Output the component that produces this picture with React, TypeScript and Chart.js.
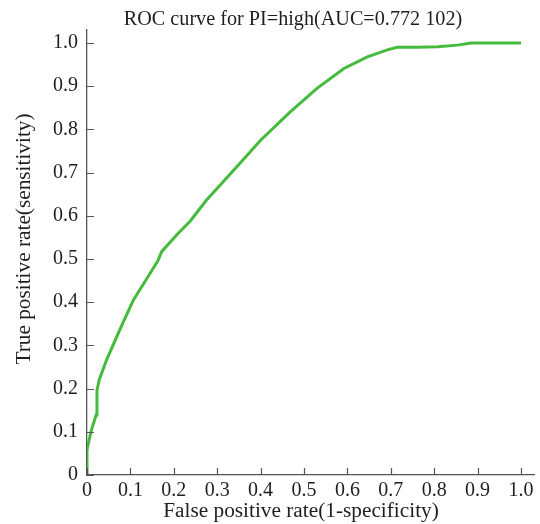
import React, { useEffect, useRef } from "react";
import { Chart, registerables } from "chart.js";

Chart.register(...registerables);

const chartTitle = "ROC curve for PI=high(AUC=0.772 102)";
const xTitle = "False positive rate(1-specificity)";
const yTitle = "True positive rate(sensitivity)";

const fpr = [0, 0, 0.009, 0.021, 0.023, 0.028, 0.045, 0.065, 0.084, 0.107, 0.138, 0.163, 0.172, 0.19, 0.207, 0.238, 0.276, 0.307, 0.353, 0.4, 0.469, 0.53, 0.592, 0.646, 0.692, 0.715, 0.761, 0.808, 0.854, 0.885, 0.904, 1.0];
const tpr = [0, 0.058, 0.1, 0.139, 0.196, 0.22, 0.266, 0.312, 0.355, 0.405, 0.455, 0.495, 0.517, 0.537, 0.556, 0.588, 0.637, 0.671, 0.722, 0.775, 0.841, 0.895, 0.941, 0.968, 0.984, 0.99, 0.99, 0.991, 0.995, 1.0, 1.0, 1.0];

const tickValues = [0, 0.1, 0.2, 0.3, 0.4, 0.5, 0.6, 0.7, 0.8, 0.9, 1.0];
const tickLabels = ["0", "0.1", "0.2", "0.3", "0.4", "0.5", "0.6", "0.7", "0.8", "0.9", "1.0"];

const FONT = "'Liberation Serif', 'DejaVu Serif', serif";
const TEXT = "#1e1e1e";
const AXIS = "#555555";

const decorPlugin = {
  id: "decor",
  afterDraw(chart: any) {
    const ctx = chart.ctx;
    const xs = chart.scales.x;
    const ys = chart.scales.y;
    ctx.save();
    // inward tick marks
    ctx.strokeStyle = AXIS;
    ctx.lineWidth = 1.2;
    ctx.beginPath();
    tickValues.forEach((v) => {
      const px = Math.round(xs.getPixelForValue(v)) + 0.5;
      ctx.moveTo(px, xs.top);
      ctx.lineTo(px, xs.top - 7);
      const py = Math.round(ys.getPixelForValue(v)) + 0.5;
      ctx.moveTo(ys.right, py);
      ctx.lineTo(ys.right + 7, py);
    });
    ctx.stroke();
    // titles
    ctx.fillStyle = TEXT;
    ctx.textAlign = "center";
    ctx.textBaseline = "middle";
    ctx.font = `20.2px ${FONT}`;
    ctx.fillText(chartTitle, 293, 20);
    ctx.font = `21.3px ${FONT}`;
    ctx.fillText(xTitle, 301, 511);
    ctx.translate(24, 239);
    ctx.rotate(-Math.PI / 2);
    ctx.fillText(yTitle, 0, 0);
    ctx.restore();
  },
};

export default function App() {
  const ref = useRef<HTMLCanvasElement | null>(null);
  useEffect(() => {
    if (!ref.current) return;
    const setTicks = (scale: any) => {
      scale.ticks = tickValues.map((v) => ({ value: v }));
    };
    const chart = new Chart(ref.current, {
      type: "scatter",
      data: {
        datasets: [
          {
            label: "ROC",
            data: fpr.map((x, i) => ({ x, y: tpr[i] })),
            showLine: true,
            borderColor: "#44bb3c",
            backgroundColor: "#44bb3c",
            borderWidth: 3,
            pointRadius: 0,
            tension: 0,
          },
        ],
      },
      options: {
        animation: false,
        responsive: false,
        layout: { padding: { top: 30, right: 6, left: 0, bottom: 0 } },
        plugins: {
          legend: { display: false },
          title: { display: false },
          tooltip: { enabled: false },
        },
        scales: {
          x: {
            type: "linear",
            min: 0,
            max: 1.03,
            afterBuildTicks: setTicks,
            afterFit: (s: any) => {
              s.height = 49;
            },
            grid: { display: true, drawOnChartArea: false, drawTicks: false },
            border: { display: true, color: AXIS, width: 1.3 },
            ticks: {
              padding: 4,
              color: TEXT,
              font: { family: FONT, size: 20 },
              maxRotation: 0,
              autoSkip: false,
              callback: (v: any) => {
                const i = tickValues.findIndex((t) => Math.abs(t - v) < 1e-9);
                return i >= 0 ? tickLabels[i] : "";
              },
            },
          },
          y: {
            type: "linear",
            min: 0,
            max: 1.03,
            afterBuildTicks: setTicks,
            afterFit: (s: any) => {
              s.width = 87;
            },
            grid: { display: true, drawOnChartArea: false, drawTicks: false },
            border: { display: true, color: AXIS, width: 1.3 },
            ticks: {
              padding: 9,
              color: TEXT,
              font: { family: FONT, size: 20 },
              autoSkip: false,
              callback: (v: any) => {
                const i = tickValues.findIndex((t) => Math.abs(t - v) < 1e-9);
                return i >= 0 ? tickLabels[i] : "";
              },
            },
          },
        },
      },
      plugins: [decorPlugin],
    });
    return () => chart.destroy();
  }, []);
  return (
    <canvas
      ref={ref}
      width={540}
      height={524}
      style={{ position: "absolute", left: 0, top: 0, width: 540, height: 524 }}
    />
  );
}
